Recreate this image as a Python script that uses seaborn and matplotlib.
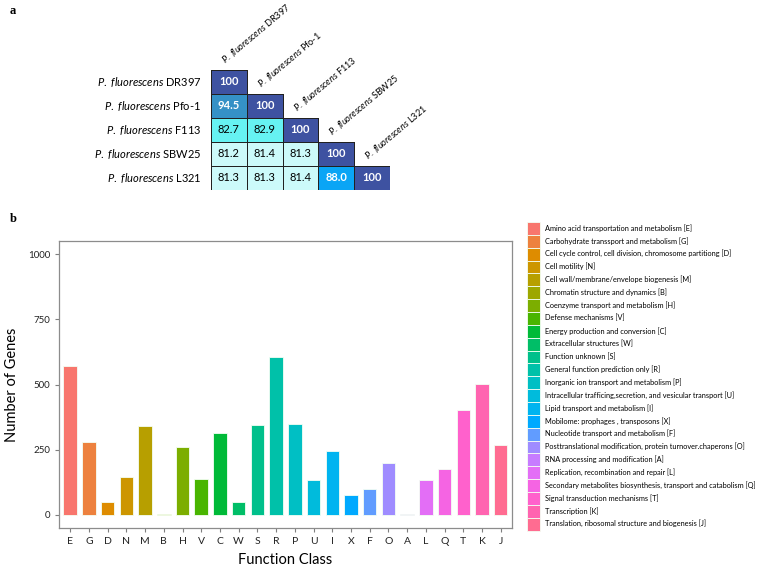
import numpy as np
import pandas as pd
import seaborn as sns
import matplotlib.pyplot as plt
from matplotlib.colors import BoundaryNorm, ListedColormap

# ---- panel a data ----
STRAINS = ["DR397", "Pfo-1", "F113", "SBW25", "L321"]
ROW_DR397 = [100, np.nan, np.nan, np.nan, np.nan]
ROW_PFO1 = [94.5, 100, np.nan, np.nan, np.nan]
ROW_F113 = [82.7, 82.9, 100, np.nan, np.nan]
ROW_SBW25 = [81.2, 81.4, 81.3, 100, np.nan]
ROW_L321 = [81.3, 81.3, 81.4, 88.0, 100]

# ---- panel b data ----
CODES = ["E", "G", "D", "N", "M", "B", "H", "V", "C", "W", "S", "R",
         "P", "U", "I", "X", "F", "O", "A", "L", "Q", "T", "K", "J"]
COUNTS = [570, 280, 51, 147, 340, 4, 261, 138, 316, 49, 344, 607,
          349, 134, 246, 76, 99, 200, 4, 135, 177, 401, 502, 268]
FUNCTIONS = [
    "Amino acid transportation and metabolism [E]",
    "Carbohydrate transsport and metabolism [G]",
    "Cell cycle control, cell division, chromosome partitiong [D]",
    "Cell motility [N]",
    "Cell wall/membrane/envelope biogenesis [M]",
    "Chromatin structure and dynamics [B]",
    "Coenzyme transport and metabolism [H]",
    "Defense mechanisms [V]",
    "Energy production and conversion [C]",
    "Extracellular structures [W]",
    "Function unknown [S]",
    "General function prediction only [R]",
    "Inorganic ion transport and metabolism [P]",
    "Intracellular trafficing,secretion, and vesicular transport [U]",
    "Lipid transport and metabolism [I]",
    "Mobilome: prophages , transposons [X]",
    "Nucleotide transport and metabolism [F]",
    "Posttranslational modification, protein turnover.chaperons [O]",
    "RNA processing and modification [A]",
    "Replication, recombination and repair [L]",
    "Secondary metabolites biosynthesis, transport and catabolism [Q]",
    "Signal transduction mechanisms [T]",
    "Transcription [K]",
    "Translation, ribosomal structure and biogenesis [J]",
]


def gg_hue(n, l=65, c=100):
    """ggplot2 default hue palette (hcl -> sRGB)"""
    h = np.linspace(15, 360, n)
    hr = np.deg2rad(h)
    U, V = c * np.cos(hr), c * np.sin(hr)
    Y = 100 * ((l + 16) / 116) ** 3
    u = U / (13 * l) + 0.1978398
    v = V / (13 * l) + 0.4683363
    X = 9.0 * Y * u / (4 * v)
    Z = -X / 3 - 5 * Y + 3 * Y / v
    X, Y, Z = X / 100, Y / 100, Z / 100
    rgb = np.stack([3.240479 * X - 1.537150 * Y - 0.498535 * Z,
                    -0.969256 * X + 1.875992 * Y + 0.041556 * Z,
                    0.055648 * X - 0.204043 * Y + 1.057311 * Z], axis=1)
    rgb = np.where(rgb > 0.00304, 1.055 * np.abs(rgb) ** (1 / 2.4) - 0.055, 12.92 * rgb)
    return [tuple(x) for x in np.clip(rgb, 0, 1)]


def strain_label(s):
    return r"$\mathit{P.}$ $\mathit{fluorescens}$ " + s


plt.rcParams["font.family"] = ["Lato", "DejaVu Sans"]
plt.rcParams["mathtext.fontset"] = "custom"
plt.rcParams["mathtext.it"] = "Lato:italic"
plt.rcParams["mathtext.rm"] = "Lato"

fig = plt.figure(figsize=(7.6, 5.68), dpi=100)

# ---------------- panel a ----------------
ani = np.array([ROW_DR397, ROW_PFO1, ROW_F113, ROW_SBW25, ROW_L321])
mask = np.isnan(ani)
labels = np.where(mask, "", np.where(ani == 100, "100", np.char.mod("%.1f", np.nan_to_num(ani))))

cmap = ListedColormap(["#CCFAFA", "#66F2F2", "#0AA5F5", "#3591C6", "#3E52A1"])
norm = BoundaryNorm([80, 82.5, 85, 91, 97, 101], cmap.N)

ax_a = fig.add_axes([0.2776, 0.6655, 0.2355, 0.2113])
sns.heatmap(ani, mask=mask, annot=labels, fmt="", cmap=cmap, norm=norm, cbar=False,
            linewidths=0.5, linecolor="#222222", ax=ax_a,
            xticklabels=False, yticklabels=[strain_label(s) for s in STRAINS],
            annot_kws={"fontsize": 8})
# no borders on the hidden upper triangle
mesh = ax_a.collections[0]
mesh.set_edgecolors([(0, 0, 0, 0) if m else (0.13, 0.13, 0.13, 1) for m in mask.ravel()])
for t in ax_a.texts:
    if float(t.get_text()) > 85:
        t.set_color("white")
        t.set_fontweight("bold")
    else:
        t.set_color("black")
ax_a.tick_params(length=0, pad=7, labelsize=8)
plt.setp(ax_a.get_yticklabels(), rotation=0)
for j, s in enumerate(STRAINS):
    ax_a.text(j + 0.45, j - 0.15, strain_label(s), rotation=40,
              rotation_mode="anchor", ha="left", va="bottom", fontsize=6.6)

fig.text(10 / 760, 1 - 14 / 568, "a", family="Liberation Serif", weight="bold", fontsize=9)
fig.text(10 / 760, 1 - 222 / 568, "b", family="Liberation Serif", weight="bold", fontsize=9)

# ---------------- panel b ----------------
df = pd.DataFrame({"code": CODES, "count": COUNTS, "function": FUNCTIONS})
palette = gg_hue(len(CODES))

ax_b = fig.add_axes([0.0776, 0.0704, 0.596, 0.505])
sns.barplot(data=df, x="code", y="count", hue="function", order=CODES,
            hue_order=FUNCTIONS, palette=palette, dodge=False, width=0.72,
            saturation=1, edgecolor="#f4fff4", linewidth=0.6, ax=ax_b)
ax_b.set_xlim(-0.6, len(CODES) - 0.4)
ax_b.set_ylim(-50, 1050)
ax_b.set_yticks([0, 250, 500, 750, 1000])
ax_b.set_xlabel("Function Class", fontsize=10.5, labelpad=5)
ax_b.set_ylabel("Number of Genes", fontsize=10.5, labelpad=6)
ax_b.tick_params(axis="both", colors="#7f7f7f", labelcolor="#222222", length=3, width=0.8)
ax_b.tick_params(axis="x", labelsize=7.5)
ax_b.tick_params(axis="y", labelsize=7)
for sp in ax_b.spines.values():
    sp.set_color("#8c8c8c")
    sp.set_linewidth(0.9)

sns.move_legend(ax_b, loc="upper left", bbox_to_anchor=(527 / 760, 1 - 222 / 568),
                bbox_transform=fig.transFigure, frameon=False, title=None,
                fontsize=5.3, handlelength=1.8, handleheight=2.31, labelspacing=0.0,
                handletextpad=0.6, borderpad=0, borderaxespad=0)

fig.savefig("out.png", dpi=100)
